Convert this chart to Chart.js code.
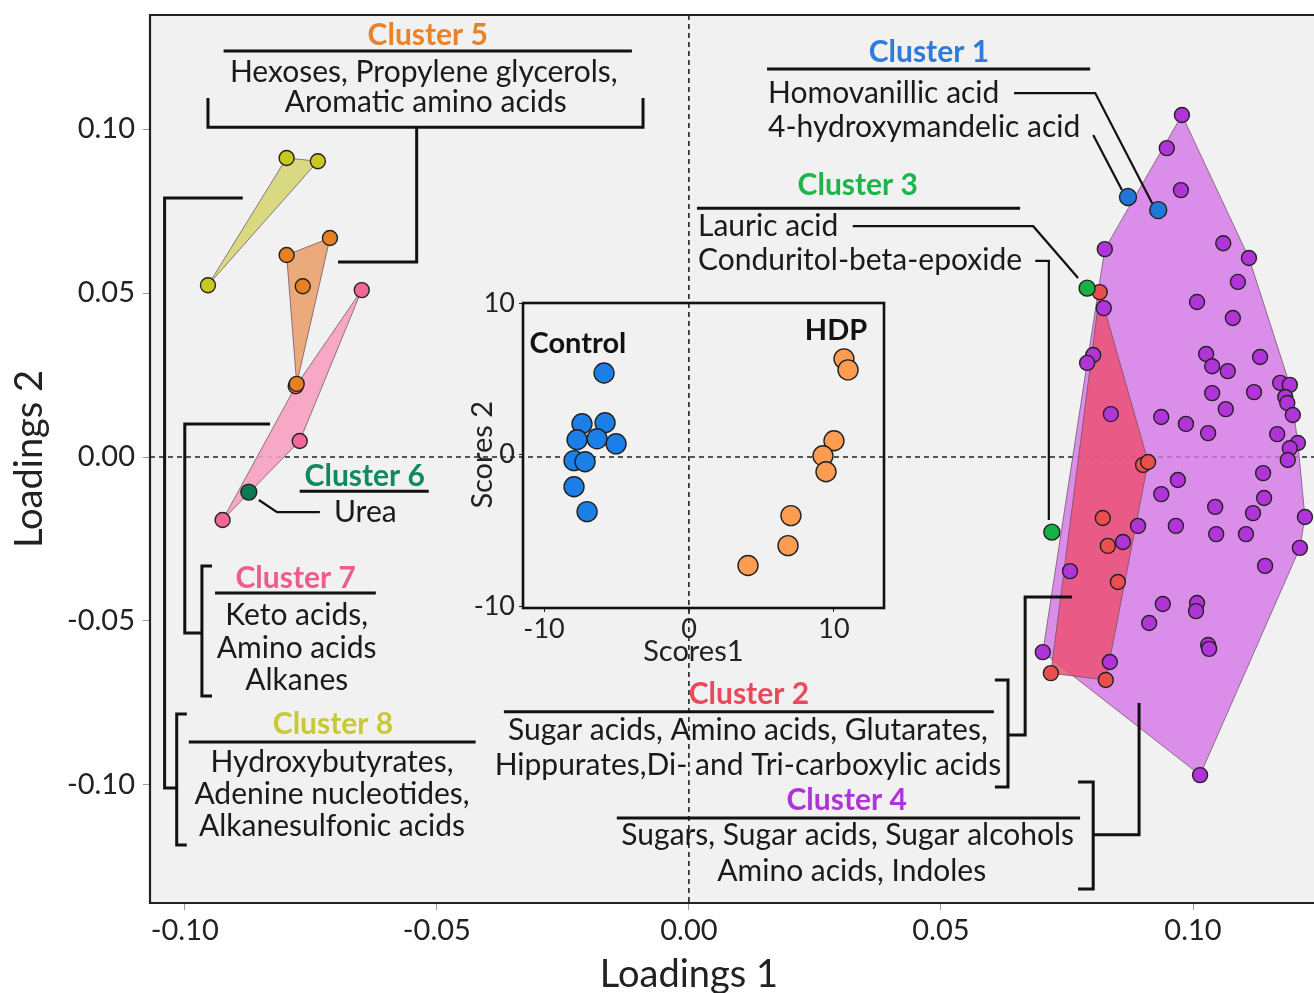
<!DOCTYPE html>
<html>
<head>
<meta charset="utf-8">
<script src="https://cdn.jsdelivr.net/npm/chart.js@4.4.0/dist/chart.umd.min.js"></script>
<style>
  html, body { margin: 0; padding: 0; background: #fff; }
  #wrap { position: relative; width: 1314px; height: 993px; overflow: hidden; }
  #main { position: absolute; left: 0; top: 0; }
  #inset { position: absolute; left: 440px; top: 280px; }
</style>
</head>
<body>
<div id="wrap">
  <canvas id="main" width="1314" height="993"></canvas>
  <canvas id="inset" width="460" height="400"></canvas>
</div>
<script>
// ---- loadings (main plot), [Loadings 1, Loadings 2] ----
const cluster1 = [[0.0871, 0.0793], [0.0931, 0.0753]];
const cluster2 = [
  [0.0815, 0.0503], [0.0901, -0.0024], [0.0911, -0.0015], [0.0821, -0.0186],
  [0.0831, -0.0271], [0.0851, -0.0381], [0.0718, -0.0659], [0.0827, -0.0680]
];
const cluster3 = [[0.0790, 0.0515], [0.0720, -0.0229]];
const cluster4 = [
  [0.0978, 0.1043], [0.0948, 0.0942], [0.0976, 0.0814], [0.0825, 0.0634],
  [0.1060, 0.0652], [0.1111, 0.0607], [0.1089, 0.0534], [0.1008, 0.0473],
  [0.1079, 0.0424], [0.0823, 0.0454], [0.0802, 0.0311], [0.0790, 0.0287],
  [0.1026, 0.0314], [0.1038, 0.0277], [0.1069, 0.0262], [0.1133, 0.0305],
  [0.1173, 0.0226], [0.1192, 0.0220], [0.1183, 0.0183], [0.1187, 0.0165],
  [0.1198, 0.0128], [0.1038, 0.0195], [0.1121, 0.0198], [0.1065, 0.0146],
  [0.0837, 0.0131], [0.0937, 0.0122], [0.0986, 0.0101], [0.1030, 0.0073],
  [0.1167, 0.0070], [0.1208, 0.0043], [0.1192, 0.0027], [0.1188, -0.0009],
  [0.1139, -0.0049], [0.0970, -0.0070], [0.0937, -0.0113], [0.1044, -0.0152],
  [0.1141, -0.0125], [0.1119, -0.0171], [0.1222, -0.0183], [0.0891, -0.0210],
  [0.0966, -0.0210], [0.1046, -0.0235], [0.1105, -0.0235], [0.0861, -0.0259],
  [0.1212, -0.0277], [0.1143, -0.0332], [0.0756, -0.0348], [0.0940, -0.0448],
  [0.1008, -0.0445], [0.1006, -0.0470], [0.0913, -0.0506], [0.1030, -0.0573],
  [0.1032, -0.0585], [0.0702, -0.0595], [0.0835, -0.0625], [0.1014, -0.0970]
];
const cluster5 = [[-0.0798, 0.0616], [-0.0712, 0.0668], [-0.0766, 0.0521], [-0.0778, 0.0223]];
const cluster6 = [[-0.0873, -0.0107]];
const cluster7 = [[-0.0649, 0.0509], [-0.0772, 0.0049], [-0.0925, -0.0192], [-0.0780, 0.0216]];
const cluster8 = [[-0.0954, 0.0524], [-0.0798, 0.0912], [-0.0736, 0.0902]];

// ---- scores (inset), [Scores1, Scores 2] ----
const controlScores = [
  [-5.86, 5.39], [-7.38, 2.04], [-5.79, 2.11], [-7.72, 0.99], [-6.34, 1.05],
  [-5.03, 0.72], [-7.93, -0.39], [-7.17, -0.46], [-7.93, -2.11], [-7.03, -3.75]
];
const hdpScores = [
  [10.69, 6.32], [10.97, 5.59], [10.00, 0.92], [9.24, -0.07], [9.45, -1.12],
  [7.03, -4.01], [6.83, -5.99], [4.07, -7.30]
];

const xTicks = [-0.10, -0.05, 0.00, 0.05, 0.10];
const yTicks = [-0.10, -0.05, 0.00, 0.05, 0.10];
const insetTicks = [-10, 0, 10];

const FONT = 'Lato, "Open Sans", sans-serif';
const INK = '#1a1a1a';

// cluster label texts: [text, x, y, color, bold, align]
const noteTexts = [
  ['Cluster 5', -0.0518, 0.1287, '#e8832c', true, 'center'],
  ['Hexoses, Propylene glycerols,', -0.0526, 0.1174, INK, false, 'center'],
  ['Aromatic amino acids', -0.0522, 0.1082, INK, false, 'center'],
  ['Cluster 1', 0.0476, 0.1235, '#2f7bd9', true, 'center'],
  ['Homovanillic acid', 0.0157, 0.1110, INK, false, 'left'],
  ['4-hydroxymandelic acid', 0.0157, 0.1006, INK, false, 'left'],
  ['Cluster 3', 0.0335, 0.0829, '#1db44c', true, 'center'],
  ['Lauric acid', 0.0018, 0.0704, INK, false, 'left'],
  ['Conduritol-beta-epoxide', 0.0018, 0.0601, INK, false, 'left'],
  ['Cluster 6', -0.0643, -0.0058, '#0e8a5c', true, 'center'],
  ['Urea', -0.0704, -0.0168, INK, false, 'left'],
  ['Cluster 7', -0.0780, -0.0369, '#ee5c8c', true, 'center'],
  ['Keto acids,', -0.0778, -0.0482, INK, false, 'center'],
  ['Amino acids', -0.0778, -0.0582, INK, false, 'center'],
  ['Alkanes', -0.0778, -0.0680, INK, false, 'center'],
  ['Cluster 8', -0.0706, -0.0814, '#c9c935', true, 'center'],
  ['Hydroxybutyrates,', -0.0708, -0.0930, INK, false, 'center'],
  ['Adenine nucleotides,', -0.0708, -0.1030, INK, false, 'center'],
  ['Alkanesulfonic acids', -0.0708, -0.1125, INK, false, 'center'],
  ['Cluster 2', 0.0119, -0.0723, '#e8495b', true, 'center'],
  ['Sugar acids, Amino acids, Glutarates,', 0.0117, -0.0832, INK, false, 'center'],
  ['Hippurates,Di- and Tri-carboxylic acids', 0.0117, -0.0939, INK, false, 'center'],
  ['Cluster 4', 0.0313, -0.1046, '#b232d9', true, 'center'],
  ['Sugars, Sugar acids, Sugar alcohols', 0.0315, -0.1155, INK, false, 'center'],
  ['Amino acids, Indoles', 0.0323, -0.1262, INK, false, 'center']
];

// underlines, brackets and connectors (data units)
const bracketPaths = [
  [[-0.0923, 0.1238], [-0.0113, 0.1238]],
  [[-0.0954, 0.1095], [-0.0954, 0.1006], [-0.0091, 0.1006], [-0.0091, 0.1095]],
  [[-0.0540, 0.1006], [-0.0540, 0.0595], [-0.0696, 0.0595]],
  [[0.0155, 0.1183], [0.0796, 0.1183]],
  [[0.0016, 0.0759], [0.0657, 0.0759]],
  [[-0.0772, -0.0104], [-0.0516, -0.0104]],
  [[-0.0940, -0.0415], [-0.0621, -0.0415]],
  [[-0.0946, -0.0332], [-0.0966, -0.0332], [-0.0966, -0.0729], [-0.0946, -0.0729]],
  [[-0.0831, 0.0101], [-0.1000, 0.0101], [-0.1000, -0.0537], [-0.0966, -0.0537]],
  [[-0.0992, -0.0869], [-0.0423, -0.0869]],
  [[-0.0996, -0.0784], [-0.1016, -0.0784], [-0.1016, -0.1183], [-0.0996, -0.1183]],
  [[-0.0885, 0.0790], [-0.1040, 0.0790], [-0.1040, -0.1009], [-0.1016, -0.1009]],
  [[-0.0367, -0.0777], [0.0605, -0.0777]],
  [[0.0607, -0.0680], [0.0633, -0.0680], [0.0633, -0.1006], [0.0607, -0.1006]],
  [[0.0633, -0.0848], [0.0667, -0.0848], [0.0667, -0.0427], [0.0760, -0.0427]],
  [[-0.0143, -0.1101], [0.0776, -0.1101]],
  [[0.0772, -0.0991], [0.0802, -0.0991], [0.0802, -0.1317], [0.0772, -0.1317]],
  [[0.0802, -0.1152], [0.0893, -0.1152], [0.0893, -0.0750]]
];
const leaderPaths = [
  [[0.0645, 0.1110], [0.0806, 0.1110], [0.0919, 0.0774]],
  [[0.0802, 0.0982], [0.0859, 0.0814]],
  [[0.0325, 0.0704], [0.0683, 0.0704], [0.0772, 0.0546]],
  [[0.0687, 0.0598], [0.0714, 0.0598], [0.0714, -0.0192]],
  [[-0.0853, -0.0131], [-0.0817, -0.0168], [-0.0732, -0.0168]]
];

const toXY = arr => arr.map(([x, y]) => ({ x, y }));

// convex hull (monotone chain), closed
function hull(arr) {
  const p = toXY(arr).sort((a, b) => a.x - b.x || a.y - b.y);
  const cross = (o, a, b) => (a.x - o.x) * (b.y - o.y) - (a.y - o.y) * (b.x - o.x);
  const lower = [], upper = [];
  for (const q of p) {
    while (lower.length >= 2 && cross(lower[lower.length - 2], lower[lower.length - 1], q) <= 0) lower.pop();
    lower.push(q);
  }
  for (const q of p.slice().reverse()) {
    while (upper.length >= 2 && cross(upper[upper.length - 2], upper[upper.length - 1], q) <= 0) upper.pop();
    upper.push(q);
  }
  const h = lower.slice(0, -1).concat(upper.slice(0, -1));
  h.push(h[0]);
  return h;
}

function polygon(arr, fill, order) {
  return {
    type: 'line', data: hull(arr), fill: 'shape', backgroundColor: fill,
    borderColor: 'rgba(110,80,100,0.75)', borderWidth: 1, pointRadius: 0,
    tension: 0, order: order
  };
}
function points(arr, color, r, order) {
  return {
    type: 'scatter', data: toXY(arr), backgroundColor: color, borderColor: '#222',
    borderWidth: 1.4, pointRadius: r, pointHoverRadius: r, order: order
  };
}

// keep the plot area exactly where the axes say, no auto label padding
const noPad = s => { s.paddingLeft = 0; s.paddingRight = 0; s.paddingTop = 0; s.paddingBottom = 0; };

const mainPlugin = {
  id: 'mainDecor',
  beforeDraw(chart) {
    const { ctx, chartArea: a } = chart;
    ctx.save();
    ctx.fillStyle = '#f1f1f1';
    ctx.fillRect(a.left, a.top, a.right - a.left, a.bottom - a.top);
    ctx.restore();
  },
  beforeDatasetsDraw(chart) {
    const { ctx, chartArea: a, scales: { x, y } } = chart;
    ctx.save();
    ctx.strokeStyle = '#222';
    ctx.lineWidth = 1.6;
    ctx.setLineDash([5, 4]);
    const x0 = x.getPixelForValue(0), y0 = y.getPixelForValue(0);
    ctx.beginPath();
    ctx.moveTo(x0, a.top); ctx.lineTo(x0, a.bottom);
    ctx.moveTo(a.left, y0); ctx.lineTo(a.right, y0);
    ctx.stroke();
    ctx.restore();
  },
  afterDatasetsDraw(chart) {
    const { ctx, chartArea: a, scales: { x, y } } = chart;
    ctx.save();
    // frame
    ctx.strokeStyle = '#222';
    ctx.lineWidth = 2.2;
    ctx.beginPath();
    ctx.moveTo(a.right + 2, a.top); ctx.lineTo(a.left, a.top);
    ctx.lineTo(a.left, a.bottom); ctx.lineTo(a.right + 2, a.bottom);
    ctx.stroke();

    const drawPath = (pts) => {
      ctx.beginPath();
      pts.forEach(([vx, vy], i) => {
        const px = x.getPixelForValue(vx), py = y.getPixelForValue(vy);
        if (i) ctx.lineTo(px, py); else ctx.moveTo(px, py);
      });
      ctx.stroke();
    };
    ctx.strokeStyle = '#111';
    ctx.lineJoin = 'miter';
    ctx.lineWidth = 3;
    bracketPaths.forEach(drawPath);
    ctx.lineWidth = 2.2;
    leaderPaths.forEach(drawPath);

    ctx.textBaseline = 'middle';
    for (const [text, vx, vy, color, bold, align] of noteTexts) {
      ctx.font = (bold ? 'bold ' : '') + '30px ' + FONT;
      ctx.fillStyle = color;
      ctx.textAlign = align;
      ctx.fillText(text, x.getPixelForValue(vx), y.getPixelForValue(vy));
    }

    // x axis title, centred on the zero line as in the source figure
    ctx.font = '38px ' + FONT;
    ctx.fillStyle = '#222';
    ctx.textAlign = 'center';
    ctx.fillText('Loadings 1', x.getPixelForValue(0), a.bottom + 72);
    ctx.restore();
  }
};

new Chart(document.getElementById('main'), {
  data: {
    datasets: [
      points(cluster3, '#17b045', 8, 0),
      points(cluster1, '#1f78d8', 8.5, 0),
      points(cluster6, '#0b7a52', 8, 0),
      points(cluster2, '#ec4d4d', 7.5, 2),
      points(cluster4, '#b034d8', 7.5, 3),
      points(cluster5, '#e8801f', 7.5, 2),
      points(cluster7, '#f2679a', 7.5, 2),
      points(cluster8, '#c8c81e', 7.5, 2),
      polygon(cluster2, 'rgba(236,78,112,0.82)', 19),
      polygon(cluster4, 'rgba(214,120,230,0.82)', 20),
      polygon(cluster5, 'rgba(234,162,110,0.9)', 18),
      polygon(cluster7, 'rgba(246,160,192,0.9)', 19),
      polygon(cluster8, 'rgba(214,214,118,0.9)', 18)
    ]
  },
  options: {
    responsive: false,
    animation: false,
    devicePixelRatio: 1,
    layout: { autoPadding: false, padding: { top: 15, right: 0, left: 0, bottom: 0 } },
    plugins: { legend: { display: false }, tooltip: { enabled: false } },
    scales: {
      x: {
        type: 'linear', min: -0.1069, max: 0.124,
        afterBuildTicks: s => { s.ticks = xTicks.map(v => ({ value: v })); },
        afterFit: s => { s.height = 90; noPad(s); },
        ticks: { color: '#222', font: { family: FONT, size: 29 }, padding: 3, callback: v => v.toFixed(2) },
        grid: { drawOnChartArea: false, tickLength: 7, color: '#999' },
        border: { display: false }
      },
      y: {
        type: 'linear', min: -0.136, max: 0.1348,
        afterBuildTicks: s => { s.ticks = yTicks.map(v => ({ value: v })); },
        afterFit: s => { s.width = 150; noPad(s); },
        ticks: { color: '#222', font: { family: FONT, size: 29 }, padding: 8, callback: v => v.toFixed(2) },
        grid: { drawOnChartArea: false, tickLength: 7, color: '#999' },
        border: { display: false },
        title: { display: true, text: 'Loadings 2', color: '#222', font: { family: FONT, size: 38 }, padding: { top: 7, bottom: 0 } }
      }
    }
  },
  plugins: [mainPlugin]
});

// ---- inset: scores plot ----
const insetPlugin = {
  id: 'insetDecor',
  afterDatasetsDraw(chart) {
    const { ctx, chartArea: a, scales: { x, y } } = chart;
    ctx.save();
    ctx.strokeStyle = '#111';
    ctx.lineWidth = 2.6;
    ctx.strokeRect(a.left, a.top, a.right - a.left, a.bottom - a.top);
    ctx.fillStyle = '#111';
    ctx.font = 'bold 29px ' + FONT;
    ctx.textAlign = 'center';
    ctx.textBaseline = 'middle';
    ctx.fillText('Control', x.getPixelForValue(-7.66), y.getPixelForValue(7.3));
    ctx.fillText('HDP', x.getPixelForValue(10.14), y.getPixelForValue(8.16));
    ctx.font = '29px ' + FONT;
    ctx.fillStyle = '#222';
    ctx.fillText('Scores1', x.getPixelForValue(0.3), a.bottom + 44);
    ctx.translate(a.left - 40, y.getPixelForValue(0));
    ctx.rotate(-Math.PI / 2);
    ctx.fillText('Scores 2', 0, 0);
    ctx.restore();
  }
};

new Chart(document.getElementById('inset'), {
  type: 'scatter',
  data: {
    datasets: [
      { data: toXY(controlScores), backgroundColor: '#1c7fe8', borderColor: '#222', borderWidth: 1.4, pointRadius: 10 },
      { data: toXY(hdpScores), backgroundColor: '#ff9c52', borderColor: '#222', borderWidth: 1.4, pointRadius: 10 }
    ]
  },
  options: {
    responsive: false,
    animation: false,
    devicePixelRatio: 1,
    layout: { autoPadding: false, padding: { top: 23, right: 16, left: 0, bottom: 0 } },
    plugins: { legend: { display: false }, tooltip: { enabled: false } },
    scales: {
      x: {
        type: 'linear', min: -11.45, max: 13.45,
        afterBuildTicks: s => { s.ticks = insetTicks.map(v => ({ value: v })); },
        afterFit: s => { s.height = 72; noPad(s); },
        ticks: { color: '#222', font: { family: FONT, size: 27 }, padding: 1 },
        grid: { drawOnChartArea: false, tickLength: 4, color: '#222' },
        border: { display: false }
      },
      y: {
        type: 'linear', min: -10.1, max: 10,
        afterBuildTicks: s => { s.ticks = insetTicks.map(v => ({ value: v })); },
        afterFit: s => { s.width = 83; noPad(s); },
        ticks: { color: '#222', font: { family: FONT, size: 27 }, padding: 4 },
        grid: { drawOnChartArea: false, tickLength: 4, color: '#222' },
        border: { display: false }
      }
    }
  },
  plugins: [insetPlugin]
});
</script>
</body>
</html>
